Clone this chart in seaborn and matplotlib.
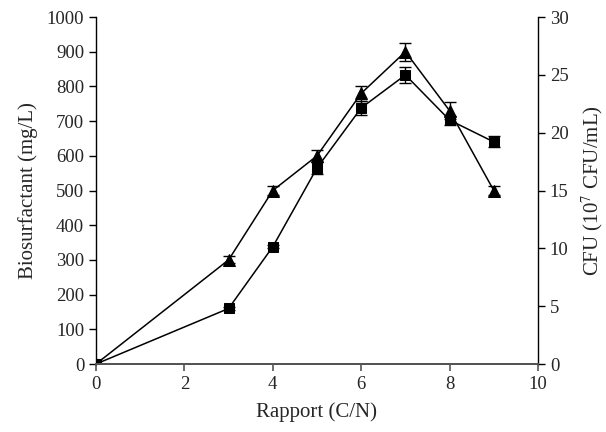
import numpy as np
import pandas as pd
import seaborn as sns
from matplotlib import pyplot as plt

# C/N ratio
ratio = [0, 3, 4, 5, 6, 7, 8, 9]
# biosurfactant production (mg/L), squares
biosurf = [0, 160, 338, 565, 738, 833, 703, 640]
biosurf_err = [0, 4, 5, 16, 20, 24, 13, 16]
# CFU (10^7 CFU/mL), triangles
cfu = [0, 9.0, 15.0, 18.0, 23.4, 27.0, 21.9, 15.0]
cfu_err = [0, 0.3, 0.4, 0.5, 0.63, 0.78, 0.72, 0.35]

sns.set_style('ticks')
plt.rcParams['font.family'] = ['Liberation Serif', 'DejaVu Serif']
plt.rcParams['mathtext.fontset'] = 'stix'

data = pd.DataFrame({'ratio': ratio, 'biosurf': biosurf, 'cfu': cfu})

fig = plt.figure(figsize=(6.06, 4.32), dpi=100)
ax = fig.add_axes([0.1584, 0.1574, 0.7294, 0.8032])
ax2 = ax.twinx()

sns.lineplot(ax=ax, data=data, x='ratio', y='biosurf', color='black',
             marker='s', markersize=7, markeredgecolor='black', linewidth=1.1)
ax.errorbar(ratio, biosurf, yerr=biosurf_err, fmt='none', ecolor='black',
            elinewidth=1, capsize=4, capthick=1)

sns.lineplot(ax=ax2, data=data, x='ratio', y='cfu', color='black',
             marker='^', markersize=8, markeredgecolor='black', linewidth=1.1)
ax2.errorbar(ratio, cfu, yerr=cfu_err, fmt='none', ecolor='black',
             elinewidth=1, capsize=4, capthick=1)

ax.set_xlim(0, 10)
ax.set_ylim(0, 1000)
ax2.set_ylim(0, 30)
ax.set_xticks(np.arange(0, 11, 2))
ax.set_yticks(np.arange(0, 1001, 100))
ax2.set_yticks(np.arange(0, 31, 5))

ax.set_xlabel('Rapport (C/N)', fontsize=15, labelpad=7)
ax.set_ylabel('Biosurfactant (mg/L)', fontsize=15, labelpad=6)
ax2.set_ylabel('CFU (10$^{7}$ CFU/mL)', fontsize=15, labelpad=8, rotation=90)

for a in (ax, ax2):
    a.tick_params(labelsize=13.5, length=5, width=1, direction='out', color='black')
    a.spines['top'].set_visible(False)
    for s in ('left', 'right'):
        a.spines[s].set_color('black')
        a.spines[s].set_linewidth(1)
    a.spines['bottom'].set_color('#555555')
    a.spines['bottom'].set_linewidth(1.4)
ax.tick_params(axis='x', color='#555555', width=1.2)
ax.spines['right'].set_visible(False)
ax2.spines['left'].set_visible(False)
ax2.spines['right'].set_visible(True)

plt.savefig('out.png', dpi=100)
